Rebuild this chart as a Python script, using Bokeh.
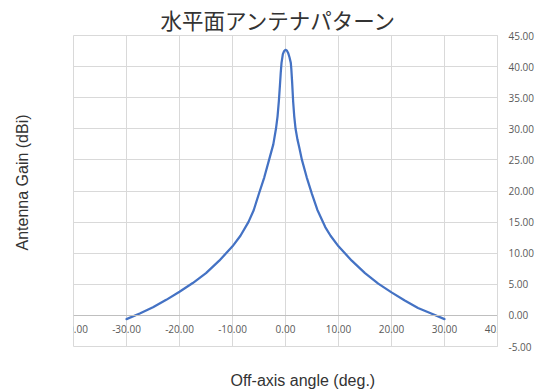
from bokeh.plotting import figure
from bokeh.models import (Range1d, FixedTicker, NumeralTickFormatter, Title,
                          LinearAxis)
from bokeh.embed import file_html
from bokeh.resources import INLINE

# ---- data ----
angle_deg = [-30, -27.5, -25, -22.5, -20, -17.5, -15, -12.5, -10, -8.5, -7, -6,
             -5, -4, -3.1, -2.3, -1.8, -1.5, -1.25, -1.05, -0.9, -0.75, -0.5,
             -0.25, 0, 0.25, 0.5, 0.75, 1.0, 1.1, 1.25, 1.45, 1.65, 1.9, 2.25,
             2.6, 3.1, 4, 5, 6, 7.5, 8.5, 10, 12.5, 15, 17.5, 20, 22.5, 25,
             27.5, 30]
gain_dbi = [-0.6, 0.3, 1.3, 2.5, 3.8, 5.2, 6.8, 8.8, 11.1, 12.8, 15.0, 16.9,
            19.6, 22.2, 25.0, 27.5, 30.0, 32.0, 34.5, 37.0, 39.0, 40.6, 42.0,
            42.5, 42.7, 42.6, 42.2, 41.5, 40.6, 39.6, 37.5, 34.3, 32.0, 30.0,
            28.3, 27.0, 25.0, 22.2, 19.5, 17.0, 14.2, 12.8, 11.1, 8.8, 6.8,
            5.1, 3.7, 2.4, 1.2, 0.3, -0.6]

x_ticks = [-40, -30, -20, -10, 0, 10, 20, 30, 40]
y_ticks = [-5, 0, 5, 10, 15, 20, 25, 30, 35, 40, 45]

title_text = "水平面アンテナパターン"
x_title = "Off-axis angle (deg.)"
y_title = "Antenna Gain (dBi)"

GRID = "#d9d9d9"
LABEL = "#595959"
TFONT = "Liberation Sans"

p = figure(width=541, height=392, output_backend="svg", toolbar_location=None,
           title=None, x_range=Range1d(-40, 40), y_range=Range1d(-5, 45),
           x_axis_location="below", y_axis_location="right",
           min_border_left=73, min_border_right=44, min_border_top=35,
           min_border_bottom=46)
p.outline_line_color = GRID
p.background_fill_color = "white"
p.border_fill_color = "white"

# x axis drawn at y = 0
xa = p.xaxis[0]
xa.ticker = FixedTicker(ticks=x_ticks)
xa.formatter = NumeralTickFormatter(format="0.00")
xa.fixed_location = 0
xa.axis_line_color = "#bfbfbf"
xa.major_tick_out = 0
xa.major_tick_in = 0
xa.minor_tick_out = 0
xa.minor_tick_in = 0
xa.major_label_standoff = 10
xa.major_label_text_font = "Open Sans"
xa.major_label_text_font_size = "10px"
xa.major_label_text_color = LABEL

ya = p.yaxis[0]
ya.ticker = FixedTicker(ticks=y_ticks)
ya.formatter = NumeralTickFormatter(format="0.00")
ya.axis_line_color = GRID
ya.major_tick_out = 0
ya.major_tick_in = 0
ya.minor_tick_out = 0
ya.minor_tick_in = 0
ya.major_label_standoff = 11
ya.major_label_text_font = "Open Sans"
ya.major_label_text_font_size = "10px"
ya.major_label_text_color = LABEL

p.xgrid.ticker = FixedTicker(ticks=x_ticks)
p.ygrid.ticker = FixedTicker(ticks=y_ticks)
p.xgrid.grid_line_color = GRID
p.ygrid.grid_line_color = GRID

p.line(angle_deg, gain_dbi, line_color="#4472C4", line_width=2.25,
       line_join="round", line_cap="round")


def spacer(size):
    # invisible axis that only reserves room in a side panel
    return LinearAxis(ticker=FixedTicker(ticks=[0]), axis_line_color=None,
                      major_tick_out=size, major_tick_in=0,
                      major_tick_line_color=None, minor_tick_out=0,
                      minor_tick_in=0, major_label_standoff=0,
                      major_label_overrides={0: ""})


p.add_layout(Title(text=title_text, align="left", offset=87, standoff=2,
                   text_font="Noto Sans CJK JP", text_font_size="21.5px",
                   text_font_style="normal", text_color="#333333"), "above")

p.add_layout(spacer(23), "below")
p.add_layout(Title(text=x_title, align="left", offset=157, standoff=4,
                   vertical_align="top",
                   text_font=TFONT, text_font_size="16px",
                   text_font_style="normal", text_color="#333333"), "below")

p.add_layout(spacer(40), "left")
p.add_layout(Title(text=y_title, align="left", offset=96, standoff=6,
                   vertical_align="bottom",
                   text_font=TFONT, text_font_size="16px",
                   text_font_style="normal", text_color="#333333"), "left")

open("out.html", "w").write(file_html(p, INLINE))
